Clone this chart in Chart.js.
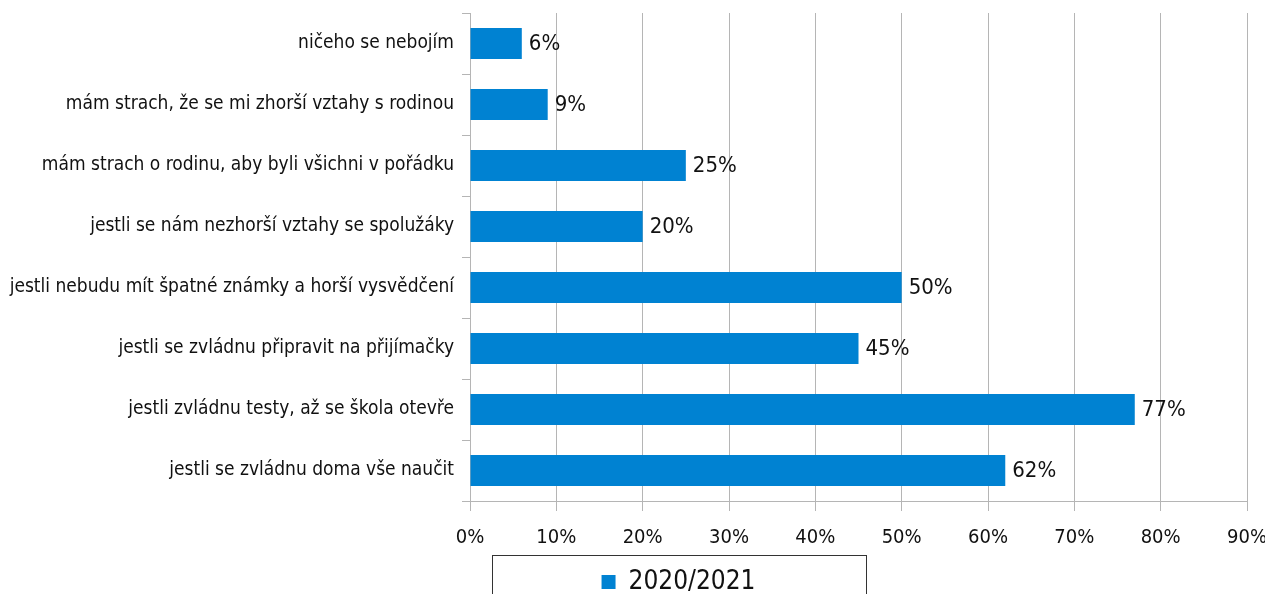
<!DOCTYPE html>
<html lang="cs">
<head>
    <meta charset="UTF-8">
    <title>Obavy žáků</title>
    <script src="https://cdn.jsdelivr.net/npm/chart.js"></script>
    <style>
        html, body {
            margin: 0;
            padding: 0;
            background: #fff;
        }
        #wrap {
            width: 1265px;
            height: 594px;
            overflow: hidden;
        }
    </style>
</head>
<body>
<div id="wrap">
    <canvas id="graf" width="1265" height="605"></canvas>
</div>

<script>
    // data z obrázku
    const kategorie = [
        'ničeho se nebojím',
        'mám strach, že se mi zhorší vztahy s rodinou',
        'mám strach o rodinu, aby byli všichni v pořádku',
        'jestli se nám nezhorší vztahy se spolužáky',
        'jestli nebudu mít špatné známky a horší vysvědčení',
        'jestli se zvládnu připravit na přijímačky',
        'jestli zvládnu testy, až se škola otevře',
        'jestli se zvládnu doma vše naučit'
    ];
    const hodnoty2021 = [6, 9, 25, 20, 50, 45, 77, 62];
    const nazevRady = '2020/2021';
    const osaMax = 90;
    const osaKrok = 10;

    const FONT = "'DejaVu Sans Condensed', 'Liberation Sans Narrow', sans-serif";
    const MODRA = '#0082d2';

    // popisky za koncem sloupce
    const popisky = {
        id: 'popisky',
        afterDatasetsDraw(chart) {
            const ctx = chart.ctx;
            const meta = chart.getDatasetMeta(0);
            ctx.save();
            ctx.font = '22px ' + FONT;
            ctx.fillStyle = '#111';
            ctx.textAlign = 'left';
            ctx.textBaseline = 'middle';
            meta.data.forEach((bar, i) => {
                ctx.fillText(hodnoty2021[i] + '%', bar.x + 7, bar.y + 1);
            });
            ctx.restore();
        }
    };

    // legenda posunutá doprava + rámeček kolem ní
    const ramecekLegendy = {
        id: 'ramecekLegendy',
        afterLayout(chart) {
            const lg = chart.legend;
            if (!lg) return;
            lg.left += 46;
            lg.right += 46;
        },
        afterDraw(chart) {
            const lg = chart.legend;
            if (!lg) return;
            const stred = (lg.left + lg.right) / 2;
            const ctx = chart.ctx;
            ctx.save();
            ctx.strokeStyle = '#333';
            ctx.lineWidth = 1;
            ctx.strokeRect(Math.round(stred - 187) + 0.5, Math.round(lg.top + 2) + 0.5, 374, 80);
            ctx.restore();
        }
    };

    const ctx = document.getElementById('graf').getContext('2d');
    const graf = new Chart(ctx, {
        type: 'bar',
        data: {
            labels: kategorie,
            datasets: [{
                label: nazevRady,
                data: hodnoty2021,
                backgroundColor: MODRA,
                borderWidth: 0,
                categoryPercentage: 1,
                barPercentage: 0.51
            }]
        },
        options: {
            indexAxis: 'y',
            responsive: false,
            animation: false,
            layout: {
                padding: { left: 0, right: 0, top: 13, bottom: 0 }
            },
            scales: {
                x: {
                    min: 0,
                    max: osaMax,
                    afterFit(scale) {
                        scale.paddingRight = 18;
                        scale.height = 52;
                    },
                    ticks: {
                        stepSize: osaKrok,
                        color: '#111',
                        font: { family: FONT, size: 20 },
                        padding: 15,
                        callback: v => v + '%'
                    },
                    grid: {
                        color: '#b5b5b5',
                        lineWidth: 1,
                        drawTicks: true,
                        tickLength: 10
                    },
                    border: { color: '#b5b5b5' }
                },
                y: {
                    afterFit(scale) {
                        scale.width = 470;
                        scale.paddingTop = 0;
                        scale.paddingBottom = 0;
                    },
                    ticks: {
                        color: '#111',
                        font: { family: FONT, size: 19 },
                        padding: 8
                    },
                    grid: {
                        offset: true,
                        drawOnChartArea: false,
                        color: '#b5b5b5',
                        tickLength: 8
                    },
                    border: { color: '#b5b5b5' }
                }
            },
            plugins: {
                legend: {
                    position: 'bottom',
                    labels: {
                        color: '#111',
                        font: { family: FONT, size: 26 },
                        boxWidth: 14,
                        boxHeight: 14,
                        padding: 16
                    }
                },
                tooltip: { enabled: false }
            }
        },
        plugins: [popisky, ramecekLegendy]
    });
</script>
</body>
</html>
